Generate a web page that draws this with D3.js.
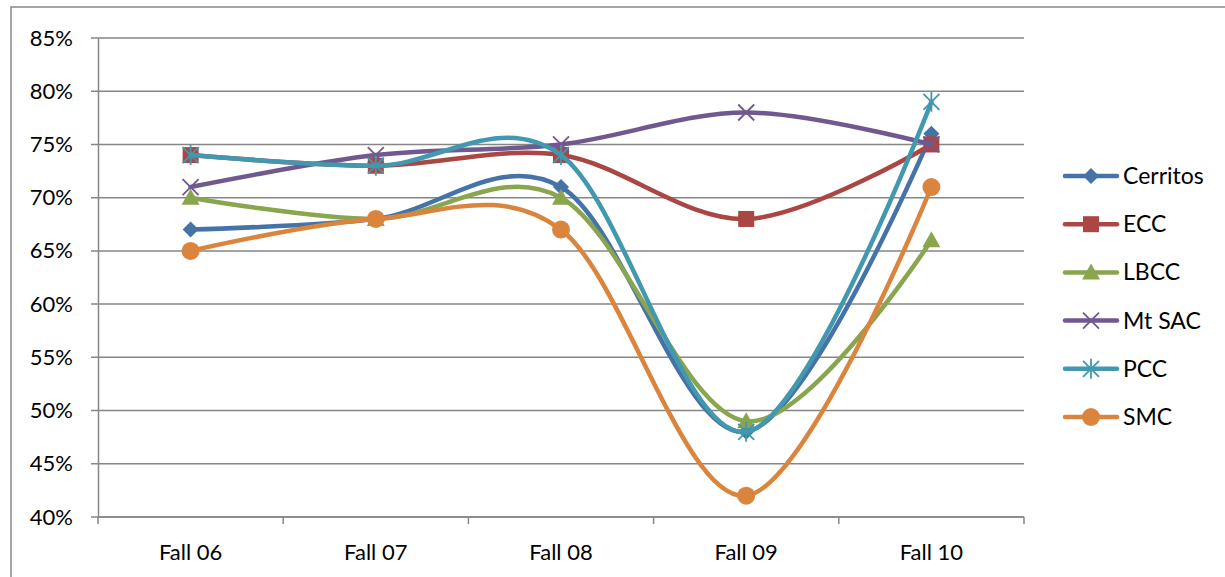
<!DOCTYPE html>
<html lang="en">

<head>
  <meta charset="utf-8">
  <title>Fall rates</title>
  <script src="https://d3js.org/d3.v7.min.js" charset="utf-8"></script>
  <style type="text/css">
    body {
      margin: 0;
      background: #fff;
    }

    text {
      font-family: Lato, "Open Sans", sans-serif;
      font-size: 23px;
      fill: #000;
    }
  </style>
</head>

<body>

  <svg id="chart"></svg>

  <script type="text/javascript">
    const terms = ["Fall 06", "Fall 07", "Fall 08", "Fall 09", "Fall 10"];
    const cerritos = [67, 68, 71, 48, 76];
    const ecc = [74, 73, 74, 68, 75];
    const lbcc = [70, 68, 70, 49, 66];
    const mtsac = [71, 74, 75, 78, 75];
    const pcc = [74, 73, 74, 48, 79];
    const smc = [65, 68, 67, 42, 71];
    const yTicks = [40, 45, 50, 55, 60, 65, 70, 75, 80, 85];

    const series = [
      { name: "Cerritos", values: cerritos, color: "#4572A7", marker: "diamond" },
      { name: "ECC", values: ecc, color: "#AA4643", marker: "square" },
      { name: "LBCC", values: lbcc, color: "#89A54E", marker: "triangle" },
      { name: "Mt SAC", values: mtsac, color: "#71588F", marker: "x" },
      { name: "PCC", values: pcc, color: "#4198AF", marker: "star" },
      { name: "SMC", values: smc, color: "#DB843D", marker: "circle" }
    ];

    const W = 1225, H = 577;
    const plotLeft = 98, plotRight = 1024, plotTop = 38, plotBottom = 517;

    const svg = d3.select("#chart")
      .attr("width", W)
      .attr("height", H);

    // outer frame
    svg.append("rect")
      .attr("x", 11).attr("y", 7)
      .attr("width", W + 20).attr("height", H + 20)
      .attr("fill", "none")
      .attr("stroke", "#888")
      .attr("stroke-width", 1.5);

    const xScale = d3.scaleBand()
      .range([plotLeft, plotRight])
      .domain(terms);

    const yScale = d3.scaleLinear()
      .range([plotBottom, plotTop])
      .domain([40, 85]);

    // grid
    svg.append("g")
      .selectAll("line")
      .data(yTicks)
      .join("line")
      .attr("x1", plotLeft - 7)
      .attr("x2", plotRight)
      .attr("y1", d => yScale(d))
      .attr("y2", d => yScale(d))
      .attr("stroke", "#868686")
      .attr("stroke-width", 1.5);

    // y axis
    const yAxis = svg.append("g")
      .attr("transform", `translate(${plotLeft}, 0)`)
      .call(d3.axisLeft(yScale).tickValues(yTicks).tickSize(0).tickPadding(25)
        .tickFormat(d => d + "%"));
    yAxis.select(".domain").attr("stroke", "#868686").attr("stroke-width", 1.5);
    yAxis.selectAll("text").style("font-size", "22px").style("font-family", "Lato, sans-serif").attr("fill", "#000");

    // x axis
    const bounds = terms.map(t => xScale(t)).concat([plotRight]);
    svg.append("line")
      .attr("x1", plotLeft).attr("x2", plotRight)
      .attr("y1", plotBottom).attr("y2", plotBottom)
      .attr("stroke", "#868686").attr("stroke-width", 1.5);
    svg.append("g")
      .selectAll("line")
      .data(bounds)
      .join("line")
      .attr("x1", d => d).attr("x2", d => d)
      .attr("y1", plotBottom).attr("y2", plotBottom + 7)
      .attr("stroke", "#868686").attr("stroke-width", 1.5);
    svg.append("g")
      .selectAll("text")
      .data(terms)
      .join("text")
      .attr("x", d => xScale(d) + xScale.bandwidth() / 2)
      .attr("y", 560)
      .attr("text-anchor", "middle")
      .style("font-size", "22px")
      .text(d => d);

    const cx = t => xScale(t) + xScale.bandwidth() / 2;

    function drawMarker(g, type, color, x, y) {
      if (type === "diamond") {
        g.append("path").attr("d", `M${x},${y - 8}L${x + 8},${y}L${x},${y + 8}L${x - 8},${y}Z`).attr("fill", color);
      } else if (type === "square") {
        g.append("rect").attr("x", x - 8).attr("y", y - 8).attr("width", 16).attr("height", 16).attr("fill", color);
      } else if (type === "triangle") {
        g.append("path").attr("d", `M${x},${y - 9}L${x + 9},${y + 7}L${x - 9},${y + 7}Z`).attr("fill", color);
      } else if (type === "x") {
        g.append("path").attr("d", `M${x - 8},${y - 8}L${x + 8},${y + 8}M${x + 8},${y - 8}L${x - 8},${y + 8}`)
          .attr("stroke", color).attr("stroke-width", 1.8).attr("fill", "none");
      } else if (type === "star") {
        g.append("path").attr("d", `M${x - 8},${y - 8}L${x + 8},${y + 8}M${x + 8},${y - 8}L${x - 8},${y + 8}M${x},${y - 10}L${x},${y + 10}`)
          .attr("stroke", color).attr("stroke-width", 1.8).attr("fill", "none");
      } else {
        g.append("circle").attr("cx", x).attr("cy", y).attr("r", 9).attr("fill", color);
      }
    }

    const line = d3.line()
      .x((d, i) => cx(terms[i]))
      .y(d => yScale(d))
      .curve(d3.curveCardinal.tension(0));

    series.forEach(s => {
      const g = svg.append("g");
      g.append("path")
        .attr("d", line(s.values))
        .attr("fill", "none")
        .attr("stroke", s.color)
        .attr("stroke-width", 4.5)
        .attr("stroke-linecap", "round");
      s.values.forEach((v, i) => drawMarker(g, s.marker, s.color, cx(terms[i]), yScale(v)));
    });

    // legend
    series.forEach((s, i) => {
      const y = 176 + i * 48.2;
      const g = svg.append("g");
      g.append("line")
        .attr("x1", 1065).attr("x2", 1117)
        .attr("y1", y).attr("y2", y)
        .attr("stroke", s.color).attr("stroke-width", 4.5)
        .attr("stroke-linecap", "round");
      drawMarker(g, s.marker, s.color, 1091, y);
      g.append("text")
        .attr("x", 1123)
        .attr("y", y + 8)
        .text(s.name);
    });
  </script>
</body>

</html>
